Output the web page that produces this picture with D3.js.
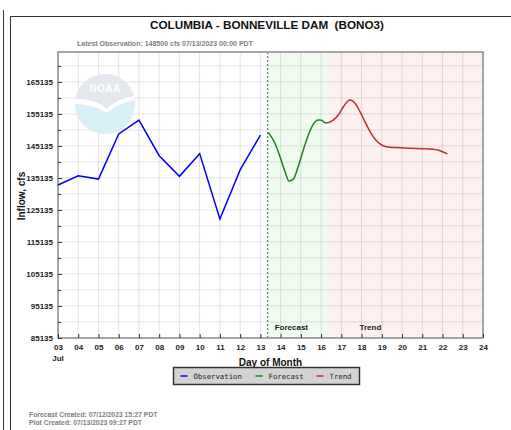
<!DOCTYPE html>
<html>
<head>
<meta charset="utf-8">
<script src="https://cdnjs.cloudflare.com/ajax/libs/d3/7.8.5/d3.min.js"></script>
<style>
  body { margin: 0; background: #fff; }
  svg { display: block; font-family: "Liberation Sans", Arial, sans-serif; }
</style>
</head>
<body>
<div id="chart"></div>
<script>
// observed daily inflow (day of July)
const obsDays = [3, 4, 5, 6, 7, 8, 9, 10, 11, 12, 13];
const obsFlow = [132950, 135850, 134800, 148900, 153250, 142100, 135650, 142750, 122300, 137650, 148500];

// forecast section (green)
const forecastDays = [13.39, 13.72, 13.97, 14.22, 14.41, 14.63, 14.87, 15.12, 15.37, 15.61, 15.86, 16.03, 16.19, 16.36];
const forecastFlow = [149400, 146000, 141800, 137100, 134200, 134800, 138700, 143900, 148600, 151900, 153250, 153150, 152400, 152400];

// trend section (red)
const trendDays = [16.36, 16.60, 16.85, 17.10, 17.43, 17.68, 17.92, 18.17, 18.42, 18.66, 18.99, 19.40, 19.90, 20.39, 21.05, 21.54, 21.88, 22.24];
const trendFlow = [152400, 153250, 154800, 157400, 159500, 158500, 155850, 152700, 149600, 147300, 145450, 144750, 144600, 144400, 144300, 144100, 143650, 142650];

const yMajorTicks = [85135, 95135, 105135, 115135, 125135, 135135, 145135, 155135, 165135];
const yMinorTicks = [90135, 100135, 110135, 120135, 130135, 140135, 150135, 160135, 170135];
const xTicks = d3.range(3, 25);
const nowDay = 13.36;
const forecastEnd = 16.36;

const legendItems = [
  { name: 'Observation', color: '#0000ff' },
  { name: 'Forecast', color: '#1f7f1f' },
  { name: 'Trend', color: '#b83030' }
];

const width = 511, height = 430;
const plot = { left: 58, right: 483, top: 52, bottom: 338 };

const svg = d3.select('#chart').append('svg')
  .attr('width', width)
  .attr('height', height);

const x = d3.scaleLinear().domain([3, 24]).range([plot.left, plot.right]);
const y = d3.scaleLinear().domain([85135, 174510]).range([plot.bottom, plot.top]);

// page frame
svg.append('line').attr('x1', 3.5).attr('x2', 3.5).attr('y1', 10).attr('y2', height)
  .attr('stroke', '#333');
svg.append('line').attr('x1', 10.5).attr('x2', 10.5).attr('y1', 16).attr('y2', height)
  .attr('stroke', '#333');
svg.append('line').attr('x1', 10).attr('x2', width).attr('y1', 16.5).attr('y2', 16.5)
  .attr('stroke', '#333');

// title + subtitle
svg.append('text')
  .attr('x', 267).attr('y', 28.5)
  .attr('text-anchor', 'middle')
  .style('white-space', 'pre')
  .style('font-size', '11.7px').style('font-weight', 'bold').style('fill', '#111')
  .text('COLUMBIA - BONNEVILLE DAM  (BONO3)');

svg.append('text')
  .attr('x', 77).attr('y', 45.5)
  .style('font-size', '7px').style('font-weight', 'bold').style('fill', '#808080')
  .text('Latest Observation: 148500 cfs 07/13/2023 00:00 PDT');

// shaded forecast / trend zones
svg.append('rect')
  .attr('x', x(nowDay)).attr('y', plot.top)
  .attr('width', x(forecastEnd) - x(nowDay)).attr('height', plot.bottom - plot.top)
  .attr('fill', '#f0fcf0');
svg.append('rect')
  .attr('x', x(forecastEnd)).attr('y', plot.top)
  .attr('width', x(24) - x(forecastEnd)).attr('height', plot.bottom - plot.top)
  .attr('fill', '#fdf0f0');

// grid
svg.append('g').selectAll('line')
  .data(xTicks)
  .enter().append('line')
  .attr('x1', d => x(d)).attr('x2', d => x(d))
  .attr('y1', plot.top).attr('y2', plot.bottom)
  .attr('stroke', '#000').attr('stroke-opacity', 0.11);
svg.append('g').selectAll('line')
  .data(yMajorTicks.concat(yMinorTicks))
  .enter().append('line')
  .attr('x1', plot.left).attr('x2', plot.right)
  .attr('y1', d => y(d)).attr('y2', d => y(d))
  .attr('stroke', '#000').attr('stroke-opacity', 0.11);

// NOAA logo (faded, behind the data)
const logo = svg.append('g').attr('transform', 'translate(105,104)');
logo.append('clipPath').attr('id', 'logoClip')
  .append('circle').attr('r', 30);
const lg = logo.append('g').attr('clip-path', 'url(#logoClip)');
lg.append('rect').attr('x', -31).attr('y', -31).attr('width', 62).attr('height', 62).attr('fill', '#d8eff8');
lg.append('path').attr('d', 'M-31,-31 L31,-31 L31,-8 Q12,-6 2,5 Q-10,-6 -31,-5 Z').attr('fill', '#e5e7ee');
lg.append('path').attr('d', 'M-31,-5 Q-10,-6 2,5 Q12,-6 31,-8 L31,-4 Q14,-2 2,9 Q-12,0 -31,0 Z').attr('fill', '#fff');
logo.append('text')
  .attr('y', -12).attr('text-anchor', 'middle')
  .style('font-size', '10px').style('font-weight', 'bold').style('fill', '#fff')
  .style('letter-spacing', '0.5px')
  .text('NOAA');

// current-time marker
svg.append('line')
  .attr('x1', x(nowDay)).attr('x2', x(nowDay))
  .attr('y1', plot.top).attr('y2', plot.bottom)
  .attr('stroke', '#555').attr('stroke-dasharray', '2,2');

// zone labels
svg.append('text').attr('x', x(nowDay) + 7).attr('y', 329.5)
  .style('font-size', '8px').style('font-weight', 'bold').style('fill', '#222')
  .text('Forecast');
svg.append('text').attr('x', x(17.9)).attr('y', 329.5)
  .style('font-size', '8px').style('font-weight', 'bold').style('fill', '#222')
  .text('Trend');

// plot border
svg.append('rect')
  .attr('x', plot.left).attr('y', plot.top)
  .attr('width', plot.right - plot.left).attr('height', plot.bottom - plot.top)
  .attr('fill', 'none').attr('stroke', '#8c8c8c').attr('stroke-width', 1.5);

// axes
const yAxis = svg.append('g')
  .attr('transform', `translate(${plot.left},0)`)
  .call(d3.axisLeft(y).tickValues(yMajorTicks).tickSize(-4).tickPadding(5).tickFormat(d3.format('d')));
const yMinor = svg.append('g')
  .attr('transform', `translate(${plot.left},0)`)
  .call(d3.axisLeft(y).tickValues(yMinorTicks).tickSize(-3).tickFormat(''));
const xAxis = svg.append('g')
  .attr('transform', `translate(0,${plot.bottom})`)
  .call(d3.axisBottom(x).tickValues(xTicks).tickSize(-4).tickPadding(6).tickFormat(d3.format('02d')));

[yAxis, yMinor, xAxis].forEach(g => {
  g.select('.domain').remove();
  g.selectAll('.tick line').attr('stroke', '#333');
  g.selectAll('text')
    .style('font-family', '"Liberation Sans", Arial, sans-serif')
    .style('font-size', '8px').style('font-weight', 'bold').style('fill', '#222');
});

svg.append('text').attr('x', x(3)).attr('y', 361).attr('text-anchor', 'middle')
  .style('font-size', '8px').style('font-weight', 'bold').style('fill', '#222')
  .text('Jul');

svg.append('text').attr('x', 270.5).attr('y', 365.5).attr('text-anchor', 'middle')
  .style('font-size', '10px').style('font-weight', 'bold').style('fill', '#111')
  .text('Day of Month');

svg.append('text')
  .attr('transform', 'translate(24.5,196) rotate(-90)')
  .attr('text-anchor', 'middle')
  .style('font-size', '10px').style('font-weight', 'bold').style('fill', '#111')
  .text('Inflow, cfs');

// data lines
const line = d3.line().x(d => x(d[0])).y(d => y(d[1]));
const smooth = d3.line().x(d => x(d[0])).y(d => y(d[1])).curve(d3.curveMonotoneX);

svg.append('path')
  .datum(d3.zip(obsDays, obsFlow))
  .attr('d', line)
  .attr('fill', 'none').attr('stroke', legendItems[0].color).attr('stroke-width', 1.5);
svg.append('path')
  .datum(d3.zip(forecastDays, forecastFlow))
  .attr('d', smooth)
  .attr('fill', 'none').attr('stroke', legendItems[1].color).attr('stroke-width', 1.5);
svg.append('path')
  .datum(d3.zip(trendDays, trendFlow))
  .attr('d', smooth)
  .attr('fill', 'none').attr('stroke', legendItems[2].color).attr('stroke-width', 1.5);

// legend
const legend = svg.append('g').attr('transform', 'translate(173.5,367.5)');
legend.append('rect')
  .attr('width', 186).attr('height', 17)
  .attr('fill', '#d3d3d3').attr('stroke', '#333').attr('stroke-width', 1.5);
const legendX = [7, 82, 143];
legend.selectAll('g.item')
  .data(legendItems)
  .enter().append('g')
  .attr('class', 'item')
  .attr('transform', (d, i) => `translate(${legendX[i]},8.5)`)
  .each(function (d) {
    const g = d3.select(this);
    g.append('line').attr('x1', 0).attr('x2', 7).attr('stroke', d.color).attr('stroke-width', 1.5);
    g.append('text').attr('x', 13).attr('dy', '0.35em')
      .style('font-family', '"DejaVu Sans Mono", monospace')
      .style('font-size', '7.3px').style('fill', '#222')
      .text(d.name);
  });

// footer
svg.append('text').attr('x', 29).attr('y', 416.5)
  .style('font-size', '6.8px').style('font-weight', 'bold').style('fill', '#808080')
  .text('Forecast Created: 07/12/2023 15:27 PDT');
svg.append('text').attr('x', 29).attr('y', 425)
  .style('font-size', '6.8px').style('font-weight', 'bold').style('fill', '#808080')
  .text('Plot Created: 07/13/2023 09:27 PDT');
</script>
</body>
</html>
